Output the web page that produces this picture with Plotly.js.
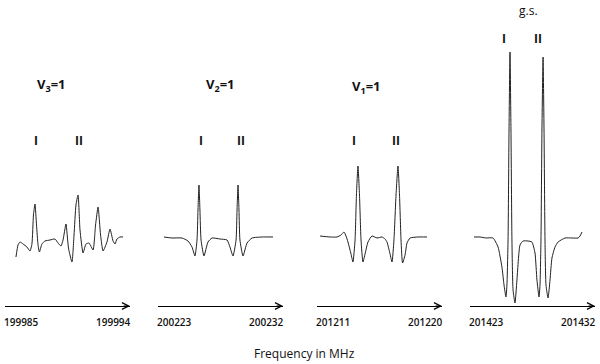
<!DOCTYPE html>
<html>
<head>
<meta charset="utf-8">
<script src="https://cdn.plot.ly/plotly-3.0.1.min.js"></script>
<style>
  html, body { margin: 0; padding: 0; background: #fff; }
  #chart { width: 600px; height: 364px; }
</style>
</head>
<body>
<div id="chart"></div>
<script>
// axis end frequencies (MHz) of the four spectra
const startFreq = [199985, 200223, 201211, 201423];
const endFreq = [199994, 200232, 201220, 201432];
const stateLabels = ['V<sub>3</sub>=1', 'V<sub>2</sub>=1', 'V<sub>1</sub>=1', 'g.s.'];

// v3=1 : offset from start frequency (MHz) and signal (arb. units)
const v3Offset = [0.79, 0.94, 1.08, 1.30, 1.58, 1.80, 1.94, 2.05, 2.16, 2.27, 2.38, 2.48, 2.66, 2.88,
    3.24, 3.60, 3.82, 4.03, 4.18, 4.39, 4.57, 4.82, 4.97, 5.11, 5.26, 5.40, 5.62, 5.83, 6.05, 6.34,
    6.52, 6.70, 6.88, 7.06, 7.34, 7.56, 7.78, 7.92, 8.06, 8.28, 8.50];
const v3Signal = [-17, -5, -2, -4, -7, -11, -4, 25, 36, 15, -5, -12, -4, -1,
    0, 1, -3, -6, 0, 16, -8, -22, 5, 35, 45, 10, -13, -4, -3, -10,
    15, 33, 5, -11, -2, 11, -1, -4, 1, 3, 3];

// v2=1
const v2Offset = [0.43, 1.01, 1.73, 2.16, 2.45, 2.66, 2.81, 2.88, 2.95, 3.02, 3.10, 3.31, 3.60, 3.89,
    4.46, 4.97, 5.18, 5.40, 5.62, 5.69, 5.76, 5.83, 5.90, 6.12, 6.41, 6.77, 7.49, 8.28];
const v2Signal = [3, 2, 2, -1, -7, -16, 0, 30, 55, 30, 0, -16, -2, 2,
    1, 0, -7, -16, 0, 30, 55, 30, 0, -16, -3, 2, 3, 3];

// v1=1
const v1Offset = [0.22, 0.94, 1.44, 1.73, 1.94, 2.09, 2.23, 2.45, 2.59, 2.74, 2.84, 2.95, 3.06, 3.17,
    3.31, 3.46, 3.67, 3.96, 4.32, 4.68, 4.90, 5.04, 5.26, 5.40, 5.54, 5.69, 5.83, 5.94, 6.05,
    6.16, 6.34, 6.48, 6.70, 7.27, 7.92];
const v1Signal = [4, 3, 3, 5, 8, 4, -2, -14, -22, 0, 45, 74, 45, 0,
    -22, -14, -2, 4, 2, 3, 1, -2, -14, -22, 0, 45, 74, 45, 0,
    -23, -15, -3, 2, 3, 3];

// ground state
const gsOffset = [0.29, 0.72, 1.15, 1.66, 2.02, 2.30, 2.45, 2.59, 2.66, 2.74, 2.81, 2.88, 2.95, 3.02,
    3.10, 3.24, 3.38, 3.60, 3.82, 4.18, 4.46, 4.68, 4.82, 4.97, 5.04, 5.11, 5.18, 5.26, 5.33,
    5.40, 5.47, 5.62, 5.76, 5.90, 6.12, 6.34, 6.84, 7.34, 7.78, 7.92, 8.06];
const gsSignal = [3, 3, 2, 2, -7, -27, -45, -57, -45, 0, 110, 188, 110, 0,
    -50, -63, -40, -5, -1, -1, -2, -13, -40, -57, -45, 0, 110, 183, 110,
    0, -45, -58, -40, -18, -7, -2, 2, 2, 2, 4, 8];

const offsets = [v3Offset, v2Offset, v1Offset, gsOffset];
const signals = [v3Signal, v2Signal, v1Signal, gsSignal];

const domains = [[0.0083, 0.2167], [0.2633, 0.4717], [0.5283, 0.7367], [0.7833, 0.9917]];

const axisName = i => (i === 0 ? 'x' : 'x' + (i + 1));

const data = offsets.map((off, i) => ({
    x: off.map(o => startFreq[i] + o),
    y: signals[i],
    xaxis: axisName(i),
    yaxis: 'y',
    type: 'scatter',
    mode: 'lines',
    line: { color: '#222', width: 1, shape: 'spline', smoothing: 0.5 },
    hoverinfo: 'skip',
    showlegend: false
}));

const layout = {
    width: 600,
    height: 364,
    margin: { l: 0, r: 0, t: 40, b: 58 },
    paper_bgcolor: '#fff',
    plot_bgcolor: '#fff',
    font: { family: 'Open Sans, sans-serif', color: '#111' },
    yaxis: { range: [-66, 200], visible: false, anchor: 'x', fixedrange: true },
    annotations: [],
    showlegend: false
};

// label positions (pixels, converted to paper units below)
const labelLeft = [35, 204, 350, 517];
const labelTop = [73, 73, 75, 0];
const oneX = [32, 201, 354, 508];
const twoX = [73, 241, 396, 544];
const romanTop = [130, 130, 130, 28];

const px = p => p / 600;
const py = p => (306 - p) / 266;

for (let i = 0; i < 4; i++) {
    const ax = axisName(i);
    layout['xaxis' + (i === 0 ? '' : i + 1)] = {
        domain: domains[i],
        range: [startFreq[i], endFreq[i]],
        anchor: 'y',
        showline: true,
        linecolor: '#000',
        linewidth: 1,
        showgrid: false,
        zeroline: false,
        ticks: '',
        showticklabels: false,
        fixedrange: true
    };
    // arrow head at the end of each axis
    layout.annotations.push({
        x: endFreq[i], y: -66, xref: ax, yref: 'y',
        ax: -8, ay: 0, showarrow: true, arrowhead: 5, arrowsize: 1.3,
        arrowwidth: 1, arrowcolor: '#000', text: ''
    });
    // end labels
    layout.annotations.push({
        x: startFreq[i], y: 0, xref: ax, yref: 'paper', xanchor: 'left', yanchor: 'middle',
        xshift: -3, yshift: -16, showarrow: false, text: String(startFreq[i]),
        font: { size: 10, color: '#111', weight: 600 }
    });
    layout.annotations.push({
        x: endFreq[i], y: 0, xref: ax, yref: 'paper', xanchor: 'right', yanchor: 'middle',
        xshift: 3, yshift: -16, showarrow: false, text: String(endFreq[i]),
        font: { size: 10, color: '#111', weight: 600 }
    });
    // state label
    layout.annotations.push({
        x: px(labelLeft[i]), y: py(labelTop[i]), xref: 'paper', yref: 'paper',
        xanchor: 'left', yanchor: 'top', showarrow: false,
        text: stateLabels[i],
        font: { size: i === 3 ? 12 : 13, color: '#111', weight: i === 3 ? 400 : 700 }
    });
    // line labels I and II
    layout.annotations.push({
        x: px(oneX[i]), y: py(romanTop[i]), xref: 'paper', yref: 'paper',
        yanchor: 'top', showarrow: false, text: 'I',
        font: { size: 12, color: '#111', weight: 700 }
    });
    layout.annotations.push({
        x: px(twoX[i]), y: py(romanTop[i]), xref: 'paper', yref: 'paper',
        yanchor: 'top', showarrow: false, text: 'II',
        font: { size: 12, color: '#111', weight: 700 }
    });
}

layout.annotations.push({
    x: px(304), y: py(343), xref: 'paper', yref: 'paper', yanchor: 'top',
    showarrow: false, text: 'Frequency in MHz', font: { size: 12, color: '#111' }
});

Plotly.newPlot('chart', data, layout, { staticPlot: true, displayModeBar: false });
</script>
</body>
</html>
